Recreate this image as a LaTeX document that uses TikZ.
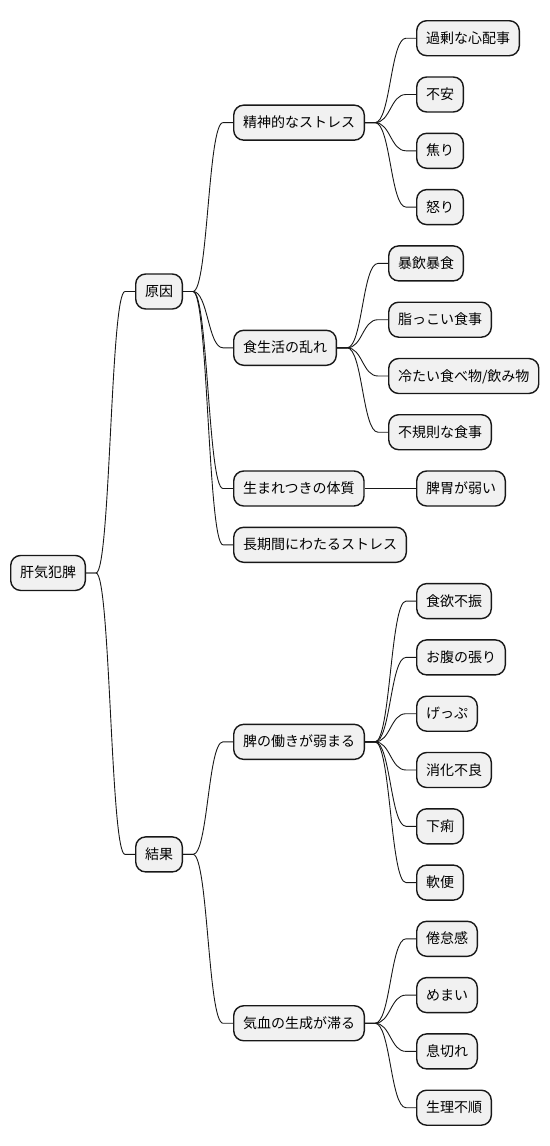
\documentclass[tikz,border=0pt]{standalone}
\usepackage{fontspec}
\newfontfamily\jpfont{Noto Sans CJK JP}
\usetikzlibrary{calc}
\definecolor{boxfill}{HTML}{F1F1F1}
\definecolor{lineclr}{HTML}{181818}
\tikzset{
  mmbox/.style={draw=lineclr, fill=boxfill, line width=1.4pt, rounded corners=10pt,
    font=\jpfont\fontsize{14}{16}\selectfont, inner xsep=9.3pt, inner ysep=0pt,
    minimum height=35pt, text height=12pt, text depth=2pt, anchor=west},
  conn/.style={draw=lineclr, line width=0.9pt}
}
\newcommand\mmlink[2]{\draw[conn] let \p1=(#1.east), \p2=(#2.west), \n1={(\x1+\x2)/2} in (\p1) -- (\x1+10pt,\y1) .. controls (\n1,\y1) and (\n1,\y2) .. (\x2-10pt,\y2) -- (\p2);}
\begin{document}
\begin{tikzpicture}[x=1pt,y=-1pt]
\useasboundingbox (0,0) rectangle (549,1146);
% root
\node[mmbox] (root) at (10,572.95) {肝気犯脾};
% level 1
\node[mmbox] (cause) at (135,291.5) {原因};
\node[mmbox] (effect) at (135,854.4) {結果};
% level 2 under cause
\node[mmbox] (stress) at (233,122.65) {精神的なストレス};
\node[mmbox] (diet) at (233,347.8) {食生活の乱れ};
\node[mmbox] (born) at (233,488.5) {生まれつきの体質};
\node[mmbox] (long) at (233,544.8) {長期間にわたるストレス};
% level 2 under effect
\node[mmbox] (spleen) at (233,741.85) {脾の働きが弱まる};
\node[mmbox] (qi) at (233,1023.25) {気血の生成が滞る};
% leaves
\node[mmbox] (l0) at (416,38.2) {過剰な心配事};
\node[mmbox] (l1) at (416,94.5) {不安};
\node[mmbox] (l2) at (416,150.8) {焦り};
\node[mmbox] (l3) at (416,207.1) {怒り};
\node[mmbox] (l4) at (388,263.4) {暴飲暴食};
\node[mmbox] (l5) at (388,319.7) {脂っこい食事};
\node[mmbox] (l6) at (388,376.0) {冷たい食べ物/飲み物};
\node[mmbox] (l7) at (388,432.2) {不規則な食事};
\node[mmbox] (l8) at (416,488.5) {脾胃が弱い};
\node[mmbox] (l10) at (416,601.1) {食欲不振};
\node[mmbox] (l11) at (416,657.4) {お腹の張り};
\node[mmbox] (l12) at (416,713.7) {げっぷ};
\node[mmbox] (l13) at (416,770.0) {消化不良};
\node[mmbox] (l14) at (416,826.3) {下痢};
\node[mmbox] (l15) at (416,882.6) {軟便};
\node[mmbox] (l16) at (416,938.8) {倦怠感};
\node[mmbox] (l17) at (416,995.1) {めまい};
\node[mmbox] (l18) at (416,1051.4) {息切れ};
\node[mmbox] (l19) at (416,1107.7) {生理不順};
% links
\mmlink{root}{cause}
\mmlink{root}{effect}
\mmlink{cause}{stress}
\mmlink{cause}{diet}
\mmlink{cause}{born}
\mmlink{cause}{long}
\mmlink{effect}{spleen}
\mmlink{effect}{qi}
\mmlink{stress}{l0}
\mmlink{stress}{l1}
\mmlink{stress}{l2}
\mmlink{stress}{l3}
\mmlink{diet}{l4}
\mmlink{diet}{l5}
\mmlink{diet}{l6}
\mmlink{diet}{l7}
\mmlink{born}{l8}
\mmlink{spleen}{l10}
\mmlink{spleen}{l11}
\mmlink{spleen}{l12}
\mmlink{spleen}{l13}
\mmlink{spleen}{l14}
\mmlink{spleen}{l15}
\mmlink{qi}{l16}
\mmlink{qi}{l17}
\mmlink{qi}{l18}
\mmlink{qi}{l19}
\end{tikzpicture}
\end{document}
